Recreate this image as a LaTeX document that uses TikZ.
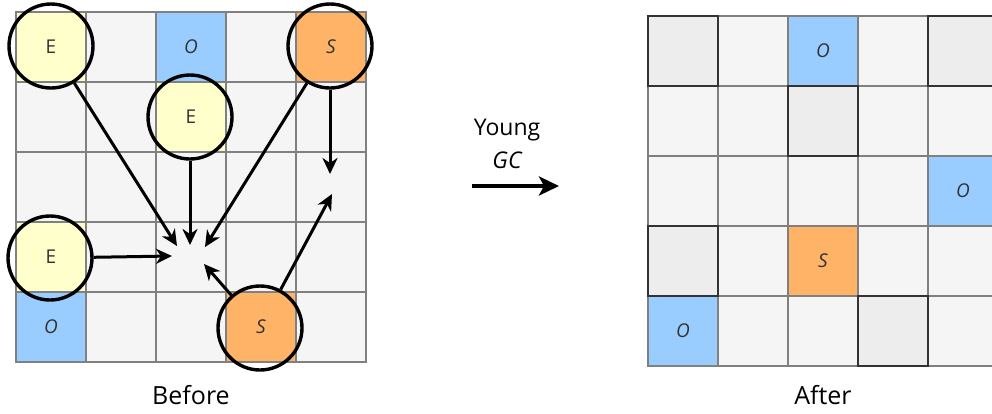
\documentclass[tikz,border=0pt]{standalone}
\usepackage{fontspec}
\setmainfont{Open Sans}
\usetikzlibrary{arrows.meta}
\definecolor{cellgray}{HTML}{F5F5F5}
\definecolor{oldgray}{HTML}{EDEDED}
\definecolor{gridline}{HTML}{808080}
\definecolor{edenyellow}{HTML}{FFFFCC}
\definecolor{oldblue}{HTML}{99CCFF}
\definecolor{survorange}{HTML}{FFB366}
\definecolor{txt}{HTML}{333333}
\tikzset{
  cell/.style={draw=gridline, fill=cellgray, line width=2pt, minimum size=70pt, inner sep=0pt,
    text=txt, font=\fontsize{19}{19}\selectfont},
  eden/.style={cell, fill=edenyellow},
  oldgen/.style={cell, fill=oldblue, font=\fontsize{19}{19}\selectfont\itshape},
  surv/.style={cell, fill=survorange, font=\fontsize{19}{19}\selectfont\itshape},
  freed/.style={cell, fill=oldgray, draw=black!80},
  ring/.style={draw=black, circle, line width=3.4pt, minimum size=84pt, inner sep=0pt},
  arr/.style={draw=black, line width=3pt, -{Stealth[length=16pt,width=15pt,inset=5pt]}},
  bigarr/.style={draw=black, line width=4.5pt, -{Stealth[length=20pt,width=19pt,inset=5pt]}},
  caption/.style={font=\fontsize{25}{25}\selectfont, text=black}
}
\begin{document}
\begin{tikzpicture}[x=1pt,y=-1pt]
\useasboundingbox (0,0) rectangle (992,413);
% ---- heap before collection ----
\foreach \r [count=\i from 0] in {47,117,187,257,327}{
  \foreach \c [count=\j from 0] in {51,121,191,261,331}{
    \node[cell] (b\i\j) at (\c,\r) {};
  }
}
\node[eden]   (b00) at (51,47)   {E};
\node[oldgen] (b02) at (191,47)  {O};
\node[surv]   (b04) at (331,47)  {S};
\node[eden]   (b12) at (191,117) {E};
\node[eden]   (b30) at (51,257)  {E};
\node[oldgen] (b40) at (51,327)  {O};
\node[surv]   (b43) at (261,327) {S};
% live objects that are traced
\node[ring] (r1) at (51,46)   {};
\node[ring] (r2) at (190,117) {};
\node[ring] (r3) at (330,46)  {};
\node[ring] (r4) at (50,258)  {};
\node[ring] (r5) at (260,328) {};
% where the references point
\coordinate (t1) at (177,246);
\coordinate (t2) at (190,245);
\coordinate (t3) at (205,247);
\coordinate (t4) at (172,256);
\coordinate (t5) at (204,264);
\coordinate (t6) at (330,174);
\coordinate (t7) at (332,194);
\draw[arr] (r1) -- (t1);
\draw[arr] (r2) -- (t2);
\draw[arr] (r3) -- (t3);
\draw[arr] (r4) -- (t4);
\draw[arr] (r5) -- (t5);
\draw[arr] (r3) -- (t6);
\draw[arr] (r5) -- (t7);
\node[caption] (before) at (191,395) {Before};
% ---- collection step ----
\node[font=\fontsize{23}{23}\selectfont] (young) at (507,130) {Young};
\node[font=\fontsize{23}{23}\selectfont\itshape] (gc) at (507,160) {GC};
\coordinate (ga) at (472,186);
\coordinate (gb) at (559,186);
\draw[bigarr] (ga) -- (gb);
% ---- heap after collection ----
\foreach \r [count=\i from 0] in {51,121,191,261,331}{
  \foreach \c [count=\j from 0] in {683,753,823,893,963}{
    \node[cell] (a\i\j) at (\c,\r) {};
  }
}
\node[oldgen] (a02) at (823,51)  {O};
\node[oldgen] (a24) at (963,191) {O};
\node[surv]   (a32) at (823,261) {S};
\node[oldgen] (a40) at (683,331) {O};
\node[freed]  (a00) at (683,51)  {};
\node[freed]  (a04) at (963,51)  {};
\node[freed]  (a12) at (823,121) {};
\node[freed]  (a30) at (683,261) {};
\node[freed]  (a43) at (893,331) {};
\node[caption] (after) at (823,395) {After};
\end{tikzpicture}
\end{document}
